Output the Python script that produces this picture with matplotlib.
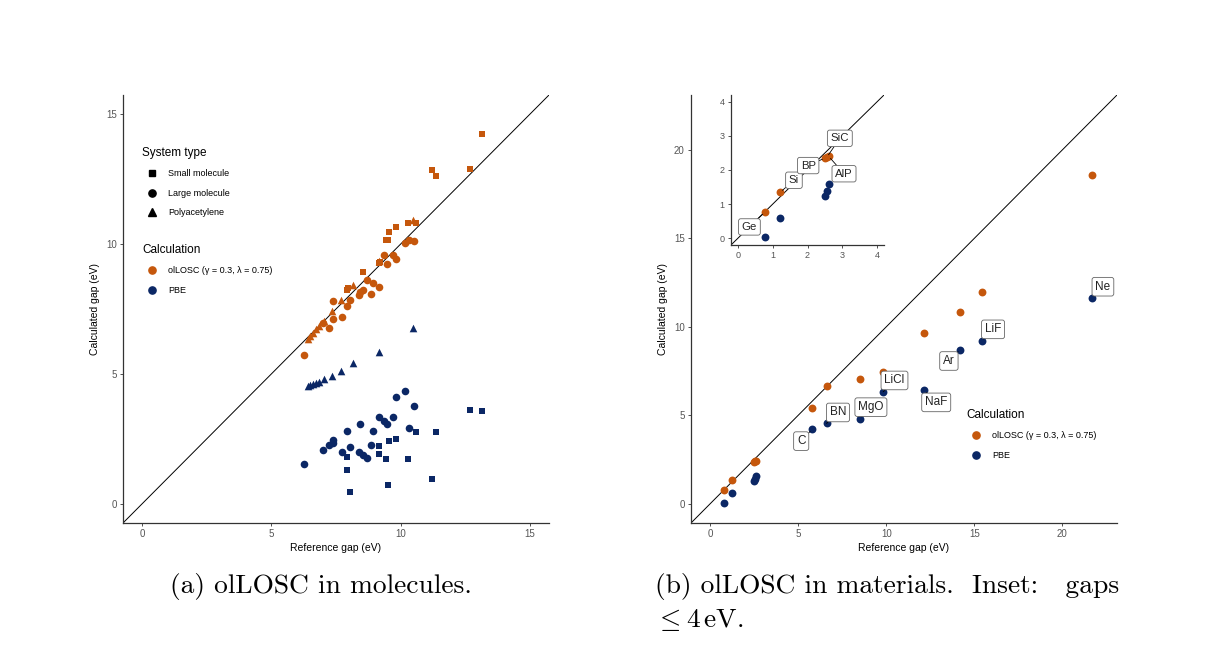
import matplotlib
matplotlib.use('Agg')
import matplotlib.pyplot as plt
from matplotlib.lines import Line2D

plt.rcParams['font.family'] = ['Liberation Sans', 'DejaVu Sans']
plt.rcParams['mathtext.fontset'] = 'cm'

ORANGE = '#C5570C'
BLUE = '#0B2765'
W, H = 1212, 664

# (a) molecules: reference gap vs calculated gap (eV)
small_ref_losc = [7.93, 7.97, 8.55, 9.16, 9.22, 9.43, 9.52, 9.56, 9.84, 10.29, 10.59, 11.23, 11.37, 12.68, 13.15]
small_losc = [8.22, 8.31, 8.92, 9.28, 9.33, 10.15, 10.17, 10.46, 10.67, 10.82, 10.80, 12.85, 12.62, 12.89, 14.25]
small_ref_pbe = [7.93, 7.92, 8.05, 9.16, 9.16, 9.43, 9.50, 9.57, 9.84, 10.29, 10.60, 11.23, 11.36, 12.68, 13.15]
small_pbe = [1.80, 1.30, 0.44, 2.21, 1.90, 1.70, 0.72, 2.40, 2.47, 1.71, 2.76, 0.93, 2.74, 3.62, 3.58]

large_ref = [6.26, 6.98, 7.22, 7.39, 7.39, 7.75, 7.92, 8.06, 8.39, 8.43, 8.54, 8.70,
             8.86, 8.95, 9.16, 9.35, 9.47, 9.70, 9.83, 10.17, 10.31, 10.51]
large_losc = [5.72, 6.95, 6.75, 7.79, 7.10, 7.20, 7.62, 7.84, 8.03, 8.15, 8.25, 8.61,
              8.07, 8.51, 8.35, 9.60, 9.25, 9.60, 9.43, 10.03, 10.15, 10.13]
large_pbe = [1.53, 2.08, 2.25, 2.34, 2.44, 1.98, 2.80, 2.18, 1.99, 3.05, 1.86, 1.77,
             2.25, 2.80, 3.32, 3.17, 3.06, 3.32, 4.10, 4.33, 2.93, 3.75]

poly_ref = [6.40, 6.49, 6.60, 6.71, 6.83, 7.04, 7.34, 7.70, 8.17, 9.17, 10.47]
poly_losc = [6.36, 6.45, 6.58, 6.72, 6.85, 7.05, 7.42, 7.84, 8.42, 9.35, 10.93]
poly_pbe = [4.54, 4.56, 4.61, 4.64, 4.69, 4.81, 4.93, 5.11, 5.40, 5.84, 6.76]

# (b) materials
mat_names = ['Ge', 'Si', 'BP', 'SiC', 'AlP', 'C', 'BN', 'MgO', 'LiCl', 'NaF', 'Ar', 'LiF', 'Ne']
mat_ref = [0.77, 1.22, 2.50, 2.56, 2.61, 5.77, 6.60, 8.48, 9.82, 12.16, 14.19, 15.42, 21.68]
mat_losc = [0.76, 1.35, 2.35, 2.38, 2.40, 5.42, 6.64, 7.04, 7.42, 9.64, 10.81, 11.94, 18.55]
mat_pbe = [0.03, 0.58, 1.25, 1.37, 1.58, 4.19, 4.53, 4.79, 6.32, 6.40, 8.70, 9.19, 11.60]

calc_label = 'olLOSC (γ = 0.3, λ = 0.75)'


def px_rect(x0, y0, x1, y1):
    return [x0 / W, 1 - y1 / H, (x1 - x0) / W, (y1 - y0) / H]


def style_axes(ax, lim, ticks, tsize=7):
    ax.set_xlim(lim)
    ax.set_ylim(lim)
    ax.set_xticks(ticks)
    ax.set_yticks(ticks)
    for s in ('top', 'right'):
        ax.spines[s].set_visible(False)
    for s in ('left', 'bottom'):
        ax.spines[s].set_color('#333333')
        ax.spines[s].set_linewidth(0.9)
    ax.tick_params(length=2.5, width=0.6, color='#333333', labelcolor='#555555',
                   labelsize=tsize, pad=2)
    ax.plot(lim, lim, color='black', lw=0.7, zorder=1)


fig = plt.figure(figsize=(W / 100, H / 100), dpi=100)

# ---- panel (a)
ax = fig.add_axes(px_rect(123, 95, 549, 523))
style_axes(ax, (-0.75, 15.75), [0, 5, 10, 15])
ax.scatter(small_ref_pbe, small_pbe, marker='s', s=24, color=BLUE, lw=0, zorder=3)
ax.scatter(small_ref_losc, small_losc, marker='s', s=24, color=ORANGE, lw=0, zorder=3)
ax.scatter(large_ref, large_pbe, marker='o', s=30, color=BLUE, lw=0, zorder=3)
ax.scatter(large_ref, large_losc, marker='o', s=30, color=ORANGE, lw=0, zorder=3)
ax.scatter(poly_ref, poly_pbe, marker='^', s=30, color=BLUE, lw=0, zorder=3)
ax.scatter(poly_ref, poly_losc, marker='^', s=30, color=ORANGE, lw=0, zorder=3)
ax.set_xlabel('Reference gap (eV)', fontsize=7.5, labelpad=3)
ax.set_ylabel('Calculated gap (eV)', fontsize=7.5, labelpad=4)

leg_kw = dict(frameon=False, fontsize=6.5, title_fontsize=8.5, alignment='left',
              borderpad=0, borderaxespad=0, handlelength=2.2, handletextpad=0.7,
              labelspacing=1.15, bbox_transform=fig.transFigure, loc='upper left')
shape_handles = [Line2D([], [], ls='none', marker=m, color='black', markersize=ms, label=l)
                 for m, ms, l in [('s', 4.8, 'Small molecule'), ('o', 5.2, 'Large molecule'),
                                  ('^', 5.2, 'Polyacetylene')]]
calc_handles = [Line2D([], [], ls='none', marker='o', color=c, markersize=5.2, label=l)
                for c, l in [(ORANGE, calc_label), (BLUE, 'PBE')]]
leg1 = ax.legend(handles=shape_handles, title='System type',
                 bbox_to_anchor=(142 / W, 1 - 147 / H), **leg_kw)
ax.add_artist(leg1)
ax.legend(handles=calc_handles, title='Calculation',
          bbox_to_anchor=(142 / W, 1 - 244 / H), **leg_kw)

# ---- panel (b)
bx = fig.add_axes(px_rect(691, 95, 1117, 523))
style_axes(bx, (-1.1, 23.1), [0, 5, 10, 15, 20])
bx.scatter(mat_ref, mat_losc, s=32, color=ORANGE, lw=0, zorder=3)
bx.scatter(mat_ref, mat_pbe, s=32, color=BLUE, lw=0, zorder=3)
bx.set_xlabel('Reference gap (eV)', fontsize=7.5, labelpad=3)
bx.set_ylabel('Calculated gap (eV)', fontsize=7.5, labelpad=4)
bx.legend(handles=calc_handles, title='Calculation',
          bbox_to_anchor=(966 / W, 1 - 409 / H), **leg_kw)

box = dict(boxstyle='round,pad=0.28,rounding_size=0.2', fc='white', ec='#666666', lw=0.6)
arrow = dict(arrowstyle='-', color='black', lw=0.6, shrinkA=0, shrinkB=2)

main_labels = {'C': (5.16, 3.53), 'BN': (7.25, 5.15), 'MgO': (9.12, 5.45),
               'LiCl': (10.46, 6.96), 'NaF': (12.83, 5.72), 'Ar': (13.55, 8.06),
               'LiF': (16.06, 9.85), 'Ne': (22.30, 12.26)}
for name, x, y in zip(mat_names, mat_ref, mat_pbe):
    if name in main_labels:
        bx.annotate(name, xy=(x, y), xytext=main_labels[name], ha='center', va='center',
                    fontsize=8.5, color='#222222', bbox=box, arrowprops=arrow, zorder=4)

# ---- inset
ix = fig.add_axes(px_rect(731, 95, 884, 245))
ix.patch.set_alpha(0)
style_axes(ix, (-0.2, 4.2), [0, 1, 2, 3, 4], tsize=6.5)
ix.scatter(mat_ref, mat_losc, s=32, color=ORANGE, lw=0, zorder=3)
ix.scatter(mat_ref, mat_pbe, s=32, color=BLUE, lw=0, zorder=3)

inset_labels = {'Ge': (0.33, 0.33), 'Si': (1.61, 1.70), 'BP': (2.02, 2.13),
                'SiC': (2.93, 2.93), 'AlP': (3.05, 1.89)}
for name, x, y in zip(mat_names, mat_ref, mat_losc):
    if name in inset_labels:
        ix.annotate(name, xy=(x, y), xytext=inset_labels[name], ha='center', va='center',
                    fontsize=8.2, color='#222222', bbox=box, arrowprops=arrow, zorder=4)

# ---- captions
cap = dict(family=['cmr10', 'DejaVu Serif'], fontsize=19.8, va='baseline')
fig.text(170 / W, 1 - 593 / H, '(a) olLOSC in molecules.', **cap)
fig.text(655 / W, 1 - 593 / H, '(b) olLOSC in materials.  Inset:   gaps', **cap)
fig.text(655 / W, 1 - 627 / H, r'$\leq 4\,\mathrm{eV}$.', **cap)

fig.savefig('out.png', dpi=100)
